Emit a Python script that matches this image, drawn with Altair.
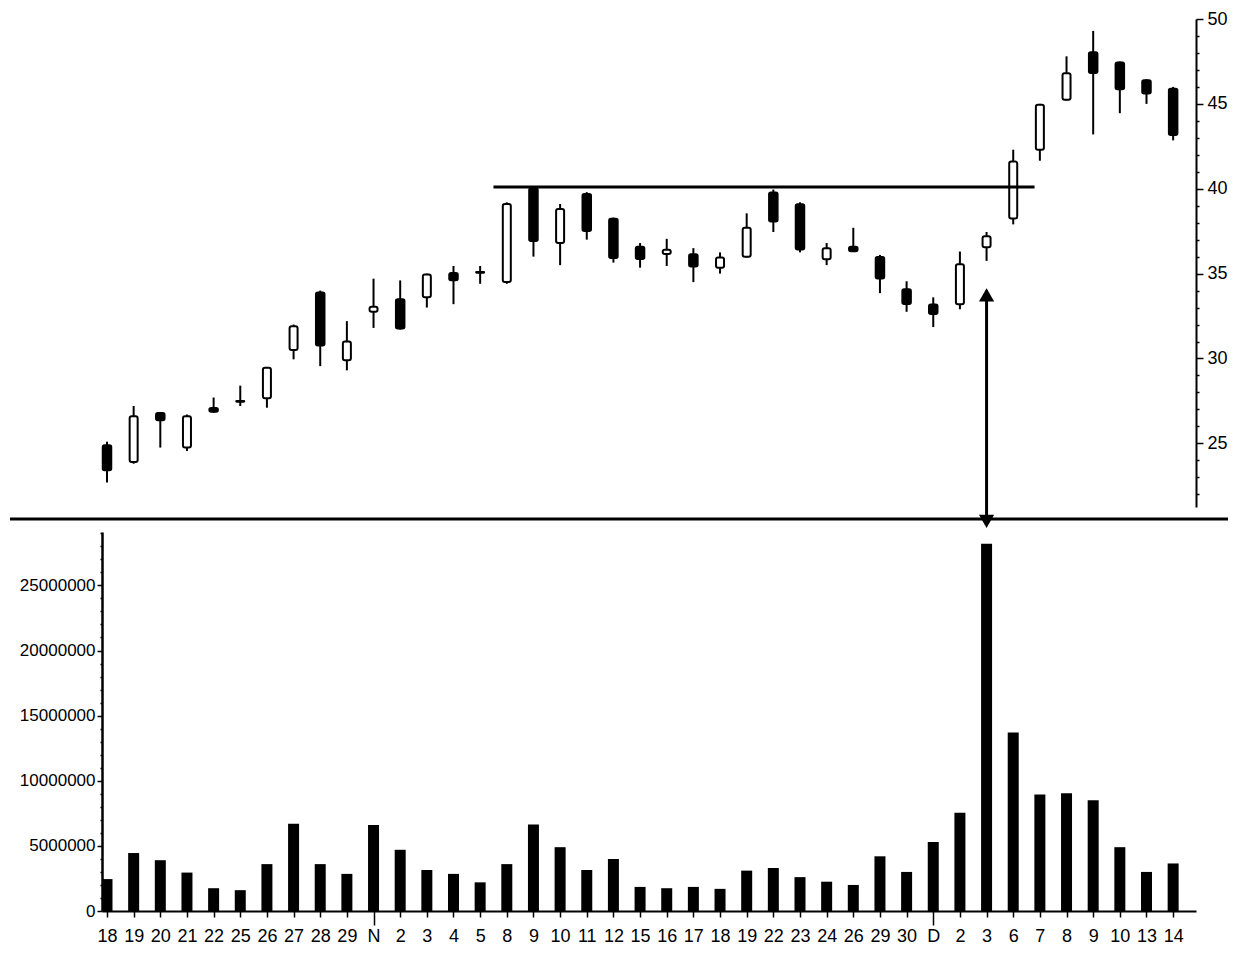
import altair as alt
import pandas as pd

# ---- data ----
labels = ["18", "19", "20", "21", "22", "25", "26", "27", "28", "29", "N", "2", "3", "4", "5",
          "8", "9", "10", "11", "12", "15", "16", "17", "18", "19", "22", "23", "24", "26",
          "29", "30", "D", "2", "3", "6", "7", "8", "9", "10", "13", "14"]
opens = [24.9, 23.9, 26.8, 24.75, 27.1, 27.45, 27.65, 30.5, 33.9, 29.9, 32.75, 33.5, 33.6, 35.05, 35.05,
         34.5, 40.05, 36.8, 39.7, 38.25, 36.6, 36.15, 36.15, 35.35, 36.0, 39.8, 39.1, 35.85, 36.6,
         36.0, 34.1, 33.2, 33.2, 36.55, 38.25, 42.3, 45.25, 48.05, 47.45, 46.4, 45.9]
highs = [25.1, 27.2, 26.8, 26.7, 27.7, 28.4, 29.5, 32.0, 34.0, 32.2, 34.7, 34.6, 35.0, 35.45, 35.45,
         39.2, 40.1, 39.1, 39.8, 38.3, 36.8, 37.05, 36.5, 36.25, 38.55, 39.95, 39.2, 36.8, 37.7,
         36.1, 34.55, 33.6, 36.3, 37.45, 42.3, 45.0, 47.8, 49.3, 47.5, 46.45, 46.0]
lows = [22.7, 23.8, 24.75, 24.55, 26.8, 27.2, 27.1, 29.95, 29.55, 29.3, 31.8, 31.7, 33.0, 33.2, 34.4,
        34.4, 36.0, 35.5, 37.0, 35.65, 35.35, 35.45, 34.5, 35.0, 35.95, 37.45, 36.25, 35.5, 36.3,
        33.85, 32.75, 31.85, 32.9, 35.75, 37.9, 41.65, 45.2, 43.2, 44.45, 45.0, 42.85]
closes = [23.4, 26.6, 26.35, 26.6, 26.85, 27.5, 29.45, 31.9, 30.75, 31.0, 33.05, 31.75, 34.95, 34.6, 35.1,
          39.1, 36.9, 38.8, 37.5, 35.9, 35.85, 36.4, 35.4, 35.95, 37.7, 38.05, 36.4, 36.5, 36.3,
          34.7, 33.2, 32.6, 35.55, 37.2, 41.6, 44.95, 46.8, 46.8, 45.85, 45.6, 43.15]
volumes = [2450000, 4450000, 3900000, 2950000, 1750000, 1600000, 3600000, 6700000, 3600000, 2850000,
           6600000, 4700000, 3150000, 2850000, 2200000, 3600000, 6650000, 4900000, 3150000, 4000000,
           1850000, 1750000, 1850000, 1700000, 3100000, 3300000, 2600000, 2250000, 2000000, 4200000,
           3000000, 5300000, 7550000, 28200000, 13700000, 8950000, 9050000, 8500000, 4900000, 3000000,
           3650000]

# annotations
resistance_level = [40.1]
resistance_from = [14.5]
resistance_to = [34.8]
arrow_day = [33]
arrow_line_top = [34.0]
arrow_line_bottom = [20.5]
arrow_head_up = [33.75]
arrow_head_down = [20.4]

month_starts = [10, 31]

# ---- tables ----
idx = list(range(len(labels)))
df = pd.DataFrame({"idx": idx, "label": labels, "open": opens, "high": highs,
                   "low": lows, "close": closes, "volume": volumes})
res_df = pd.DataFrame({"x1": resistance_from, "x2": resistance_to, "level": resistance_level})
arrow_df = pd.DataFrame({"idx": arrow_day, "top": arrow_line_top, "bottom": arrow_line_bottom,
                         "up": arrow_head_up, "down": arrow_head_down})

W = 1094
FONT = "Liberation Sans"

xs = alt.Scale(domain=[0, 40.67], nice=False, zero=False)
ys = alt.Scale(domain=[21.25, 50], nice=False, zero=False)


def price_axis():
    return alt.Axis(
        orient="right", values=list(range(22, 51)),
        labelExpr="datum.value % 5 == 0 ? '' + datum.value : ''",
        labelOverlap=False, labelFlush=False, labelFontSize=18, labelPadding=4,
        tickSize={"condition": {"test": "datum.value % 5 == 0", "value": 7}, "value": 3},
        tickWidth=1.5, domainWidth=2, grid=False, title=None,
    )


def PY(field):
    return alt.Y(field, scale=ys, axis=price_axis())


base = alt.Chart(df)
X = alt.X("idx:Q", scale=xs, axis=None)

wicks = base.mark_rule(color="black", strokeWidth=2).encode(
    x=X, y=PY("low:Q"), y2="high:Q")
white_bodies = base.transform_filter("datum.close >= datum.open").mark_bar(
    size=8, fill="white", stroke="black", strokeWidth=2, cornerRadius=2
).encode(x=X, y=PY("open:Q"), y2="close:Q")
black_bodies = base.transform_filter("datum.close < datum.open").mark_bar(
    size=9, fill="black", stroke="black", strokeWidth=1.5, cornerRadius=2
).encode(x=X, y=PY("open:Q"), y2="close:Q")

resistance = alt.Chart(res_df).mark_rule(color="black", strokeWidth=3).encode(
    x=alt.X("x1:Q", scale=xs, axis=None), x2="x2:Q", y=PY("level:Q"))

arrow_line = alt.Chart(arrow_df).mark_rule(color="black", strokeWidth=3).encode(
    x=alt.X("idx:Q", scale=xs, axis=None), y=PY("top:Q"), y2="bottom:Q")
arrow_up = alt.Chart(arrow_df).mark_point(shape="triangle-up", filled=True, size=230,
                                          color="black", opacity=1).encode(
    x=alt.X("idx:Q", scale=xs, axis=None), y=PY("up:Q"))
arrow_down = alt.Chart(arrow_df).mark_point(shape="triangle-down", filled=True, size=230,
                                            color="black", opacity=1).encode(
    x=alt.X("idx:Q", scale=xs, axis=None), y=PY("down:Q"))

separator = alt.Chart(pd.DataFrame({"k": [0]})).mark_rule(color="black", strokeWidth=3).encode(
    x=alt.value(-92), x2=alt.value(1126), y=alt.value(500))

top = alt.layer(wicks, white_bodies, black_bodies, resistance, arrow_line, arrow_up,
                arrow_down, separator).properties(width=W, height=488)

month_test = "datum.value == %d || datum.value == %d" % tuple(month_starts)
label_js = "[" + ",".join("'%s'" % s for s in labels) + "]"
x_axis = alt.Axis(
    values=idx, labelExpr=label_js + "[datum.value]", labelOverlap=False, labelFlush=False,
    labelFontSize=18,
    labelPadding={"condition": {"test": month_test, "value": 2}, "value": 10},
    tickSize={"condition": {"test": month_test, "value": 14}, "value": 6},
    tickWidth=1.5, domainWidth=2, grid=False, title=None,
)
vol_axis = alt.Axis(
    values=[i * 1000000 for i in range(0, 30)],
    labelExpr="datum.value % 5000000 == 0 ? format(datum.value, 'd') : ''",
    labelOverlap=False, labelFlush=False, labelFontSize=17, labelPadding=2,
    tickSize={"condition": {"test": "datum.value % 5000000 == 0", "value": 5}, "value": 2},
    tickWidth=1.5, domainWidth=2.5, grid=False, title=None,
)

vol = alt.Chart(df).mark_bar(size=11, color="black", clip=True).encode(
    x=alt.X("idx:Q", scale=xs, axis=x_axis),
    y=alt.Y("volume:Q", scale=alt.Scale(domain=[0, 29100000], nice=False), axis=vol_axis),
).properties(width=W, height=379)

chart = alt.vconcat(top, vol, spacing=25, bounds="flush").properties(
    padding={"left": 0, "top": 2, "right": 0, "bottom": 0}
).configure_view(stroke=None).configure_axis(
    labelFont=FONT, labelColor="black", domainColor="black", tickColor="black"
)

chart.save("out.html", embed_options={"renderer": "svg", "actions": False})
